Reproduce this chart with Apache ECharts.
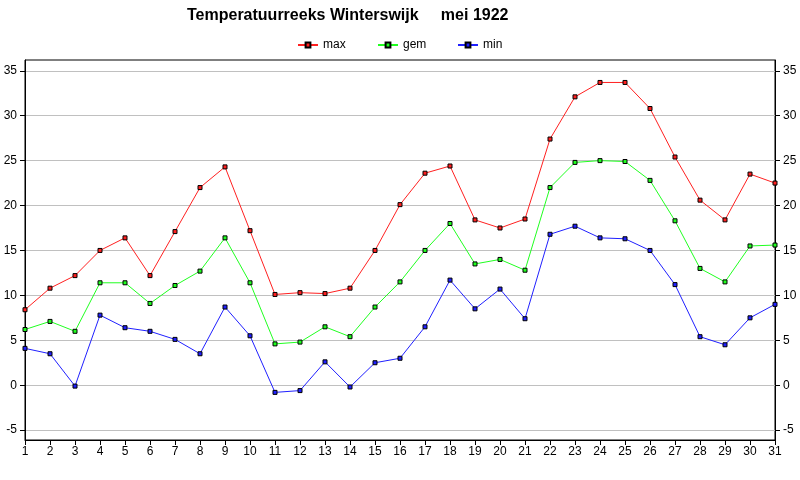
<!DOCTYPE html>
<html>
<head>
<meta charset="utf-8">
<script src="https://cdn.jsdelivr.net/npm/echarts@6/dist/echarts.min.js"></script>
<style>
  html, body { margin: 0; padding: 0; background: #fff; }
  #chart { width: 800px; height: 480px; }
</style>
</head>
<body>
<div id="chart"></div>
<script>
// dagen van de maand
var days = [];
for (var d = 1; d <= 31; d++) days.push(String(d));

// temperaturen mei 1922
var maxTemp = [8.4, 10.8, 12.2, 15.0, 16.4, 12.2, 17.1, 22.0, 24.3, 17.2,
  10.1, 10.3, 10.2, 10.8, 15.0, 20.1, 23.6, 24.4, 18.4, 17.5,
  18.5, 27.4, 32.1, 33.7, 33.7, 30.8, 25.4, 20.6, 18.4, 23.5, 22.5];
var gemTemp = [6.2, 7.1, 6.0, 11.4, 11.4, 9.1, 11.1, 12.7, 16.4, 11.4,
  4.6, 4.8, 6.5, 5.4, 8.7, 11.5, 15.0, 18.0, 13.5, 14.0,
  12.8, 22.0, 24.8, 25.0, 24.9, 22.8, 18.3, 13.0, 11.5, 15.5, 15.6];
var minTemp = [4.1, 3.5, -0.1, 7.8, 6.4, 6.0, 5.1, 3.5, 8.7, 5.5,
  -0.8, -0.6, 2.6, -0.2, 2.5, 3.0, 6.5, 11.7, 8.5, 10.7,
  7.4, 16.8, 17.7, 16.4, 16.3, 15.0, 11.2, 5.4, 4.5, 7.5, 9.0];

// labels op de y-as
var yTicks = [-5, 0, 5, 10, 15, 20, 25, 30, 35];

var seriesNames = ["max", "gem", "min"];
var fontName = "Liberation Sans, Arial, sans-serif";
var labelFont = { color: "#000", fontSize: 12, fontFamily: fontName };

function makeSeries(name, data, color) {
  return {
    name: name,
    type: "line",
    data: data,
    symbol: "rect",
    symbolSize: 4,
    showAllSymbol: true,
    animation: false,
    lineStyle: { color: color, width: 1 },
    itemStyle: { color: color, borderColor: "#000", borderWidth: 1 },
    emphasis: { disabled: true }
  };
}

function makeYAxis(pos, grid) {
  return {
    type: "value",
    position: pos,
    min: -6.1,
    max: 36.2,
    axisLine: { show: true, onZero: false, lineStyle: { color: "#000", width: 1 } },
    axisTick: { show: true, length: 5, customValues: yTicks, lineStyle: { color: "#000" } },
    axisLabel: Object.assign({ customValues: yTicks, margin: 8 }, labelFont),
    splitLine: { show: grid, lineStyle: { color: "#c0c0c0", width: 1 } }
  };
}

// elke legenda-regel op een vaste plek, 80px uit elkaar
function makeLegend(name, i) {
  return {
    left: 297 + i * 80,
    top: 39,
    padding: 0,
    itemWidth: 20,
    itemHeight: 6,
    textStyle: { color: "#000", fontSize: 12, fontFamily: fontName },
    data: [name]
  };
}

var chart = echarts.init(document.getElementById("chart"), null, { renderer: "canvas" });

chart.setOption({
  backgroundColor: "#fff",
  animation: false,
  title: {
    text: "Temperatuurreeks Winterswijk     mei 1922",
    left: 182,
    top: 3,
    textStyle: { color: "#000", fontSize: 16, fontWeight: "bold", fontFamily: fontName }
  },
  legend: seriesNames.map(makeLegend),
  grid: {
    left: 25,
    right: 25,
    top: 60,
    bottom: 40,
    show: true,
    borderColor: "#000",
    borderWidth: 1,
    containLabel: false
  },
  xAxis: {
    type: "category",
    data: days,
    boundaryGap: false,
    axisLine: { show: true, onZero: false, lineStyle: { color: "#000", width: 1 } },
    axisTick: { show: true, length: 5, interval: 0, lineStyle: { color: "#000" } },
    axisLabel: Object.assign({ interval: 0, margin: 6 }, labelFont),
    splitLine: { show: false }
  },
  yAxis: [makeYAxis("left", true), makeYAxis("right", false)],
  series: [
    makeSeries("max", maxTemp, "#ff2020"),
    makeSeries("gem", gemTemp, "#20ff20"),
    makeSeries("min", minTemp, "#2020ff")
  ]
});
</script>
</body>
</html>
